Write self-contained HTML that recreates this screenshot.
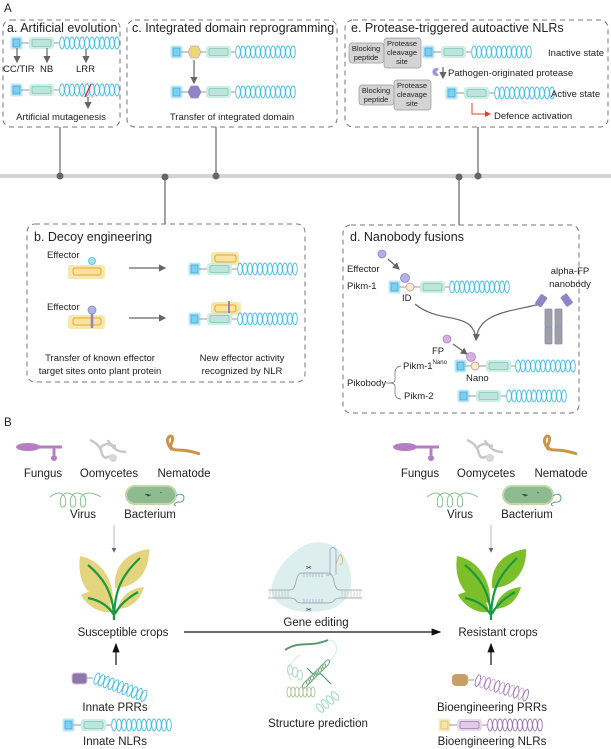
<!DOCTYPE html>
<html><head><meta charset="utf-8"><style>
html,body{margin:0;padding:0;background:#fff}
svg{display:block}
text{font-family:"Liberation Sans",Arial,sans-serif;fill:#222}
.t{font-size:12.5px}
.s{font-size:9.5px}
.m{font-size:11.5px}
.box{fill:none;stroke:#777;stroke-width:1;stroke-dasharray:5,4}
.ln{stroke:#666;stroke-width:1.2;fill:none}
</style></head><body>
<svg width="611" height="749" viewBox="0 0 611 749" xmlns="http://www.w3.org/2000/svg">
<defs>
<marker id="ah" markerWidth="6" markerHeight="6" refX="5" refY="3" orient="auto"><path d="M0,0L6,3L0,6z" fill="#666"/></marker>
<marker id="ahk" markerWidth="8" markerHeight="8" refX="7" refY="4" orient="auto"><path d="M0,1L8,4L0,7z" fill="#111"/></marker>
<marker id="ahr" markerWidth="6" markerHeight="6" refX="5" refY="3" orient="auto"><path d="M0,0L6,3L0,6z" fill="#e53b2c"/></marker>
<g id="coil" fill="none" stroke="#45bde0" stroke-width="0.9">
<ellipse cx="0" cy="0" rx="2.3" ry="6"/><ellipse cx="5" cy="0" rx="2.3" ry="6"/><ellipse cx="10" cy="0" rx="2.3" ry="6"/><ellipse cx="15" cy="0" rx="2.3" ry="6"/><ellipse cx="20" cy="0" rx="2.3" ry="6"/><ellipse cx="25" cy="0" rx="2.3" ry="6"/><ellipse cx="30" cy="0" rx="2.3" ry="6"/><ellipse cx="35" cy="0" rx="2.3" ry="6"/><ellipse cx="40" cy="0" rx="2.3" ry="6"/><ellipse cx="45" cy="0" rx="2.3" ry="6"/><ellipse cx="50" cy="0" rx="2.3" ry="6"/><ellipse cx="55" cy="0" rx="2.3" ry="6"/>
</g>
<g id="sq"><rect x="-1.5" y="-6.5" width="12" height="13" rx="2" fill="#bfe6f5"/><rect x="1" y="-4" width="7" height="8" fill="#7cd0ee" stroke="#3aa9d8" stroke-width="0.8"/></g>
<g id="nb"><rect x="-2" y="-6" width="25" height="12" rx="3" fill="#cdeee4"/><rect x="1" y="-3.5" width="19" height="7" rx="1.5" fill="#bfe5da" stroke="#7fc7b3" stroke-width="0.8"/></g>
<g id="nlr"><use href="#sq"/><line x1="9" y1="0" x2="17" y2="0" stroke="#999"/><use href="#nb" x="19"/><line x1="42" y1="0" x2="47" y2="0" stroke="#999"/><use href="#coil" x="50"/></g>
</defs>

<text x="4" y="12" class="m">A</text>

<!-- a -->
<rect class="box" x="3" y="20" width="117" height="107" rx="8"/>
<text x="7" y="32" class="t">a. Artificial evolution</text>
<use href="#nlr" x="12" y="43"/>
<g class="ln" stroke-width="0.8"><line x1="17" y1="48" x2="17" y2="62" marker-end="url(#ah)"/><line x1="47" y1="48" x2="47" y2="62" marker-end="url(#ah)"/><line x1="86" y1="49" x2="86" y2="62" marker-end="url(#ah)"/></g>
<text x="3" y="72" class="s">CC/TIR</text><text x="40" y="72" class="s">NB</text><text x="76" y="72" class="s">LRR</text>
<use href="#nlr" x="12" y="90"/>
<rect x="82" y="83" width="12" height="14" fill="none" stroke="#888" stroke-width="0.6" stroke-dasharray="1.5,1"/>
<line x1="85" y1="97" x2="91" y2="84" stroke="#e02020" stroke-width="1.3"/>
<line x1="88" y1="97" x2="88" y2="108" class="ln" stroke-width="0.8" marker-end="url(#ah)"/>
<text x="61" y="120" class="s" text-anchor="middle" font-size="10">Artificial mutagenesis</text>

<!-- c -->
<rect class="box" x="127" y="20" width="210" height="107" rx="8"/>
<text x="132" y="32" class="t">c. Integrated domain reprogramming</text>
<g transform="translate(172,52)"><use href="#sq"/><line x1="9" y1="0" x2="16" y2="0" stroke="#999"/><polygon points="16,0 19,-6 26,-6 29,0 26,6 19,6" fill="#ecd67a" stroke="#c9a0d0" stroke-width="0.8"/><line x1="29" y1="0" x2="34" y2="0" stroke="#999"/><use href="#nb" x="36"/><line x1="59" y1="0" x2="63" y2="0" stroke="#999"/><use href="#coil" x="66"/></g>
<line x1="194" y1="60" x2="194" y2="83" class="ln" stroke-width="0.8" marker-end="url(#ah)"/>
<g transform="translate(172,92)"><use href="#sq"/><line x1="9" y1="0" x2="16" y2="0" stroke="#999"/><polygon points="16,0 19,-6 26,-6 29,0 26,6 19,6" fill="#8a86c8" stroke="#b080c0" stroke-width="0.8"/><line x1="29" y1="0" x2="34" y2="0" stroke="#999"/><use href="#nb" x="36"/><line x1="59" y1="0" x2="63" y2="0" stroke="#999"/><use href="#coil" x="66"/></g>
<text x="232" y="120" class="s" text-anchor="middle" font-size="10">Transfer of integrated domain</text>

<!-- e -->
<rect class="box" x="345" y="20" width="263" height="107" rx="8"/>
<text x="351" y="32" class="t">e. Protease-triggered autoactive NLRs</text>
<g font-size="7.5">
<rect x="349" y="43" width="35" height="20" rx="3" fill="#d4d4d4" stroke="#999" stroke-width="0.7"/>
<text x="366" y="51" font-size="7.5" text-anchor="middle">Blocking</text><text x="366" y="60" font-size="7.5" text-anchor="middle">peptide</text>
<rect x="384" y="38" width="37" height="30" rx="3" fill="#d4d4d4" stroke="#999" stroke-width="0.7"/>
<text x="402" y="46" font-size="7.5" text-anchor="middle">Protease</text><text x="402" y="55" font-size="7.5" text-anchor="middle">cleavage</text><text x="402" y="64" font-size="7.5" text-anchor="middle">site</text>
<rect x="359" y="85" width="35" height="20" rx="3" fill="#d4d4d4" stroke="#999" stroke-width="0.7"/>
<text x="376" y="93" font-size="7.5" text-anchor="middle">Blocking</text><text x="376" y="102" font-size="7.5" text-anchor="middle">peptide</text>
<rect x="394" y="80" width="37" height="30" rx="3" fill="#d4d4d4" stroke="#999" stroke-width="0.7"/>
<text x="412" y="88" font-size="7.5" text-anchor="middle">Protease</text><text x="412" y="97" font-size="7.5" text-anchor="middle">cleavage</text><text x="412" y="106" font-size="7.5" text-anchor="middle">site</text>
</g>
<use href="#nlr" x="424" y="52"/>
<text x="604" y="56" class="s" text-anchor="end">Inactive state</text>
<path d="M439,69 a4,4 0 1,0 0,6 l-3,-3z" fill="#9a97d6"/>
<line x1="443" y1="67" x2="443" y2="78" class="ln" stroke-width="0.8" marker-end="url(#ah)"/>
<text x="448" y="76" class="s">Pathogen-originated protease</text>
<use href="#nlr" x="447" y="93"/>
<text x="551" y="97" class="s">Active state</text>
<path d="M472,103 V114 H490" fill="none" stroke="#e53b2c" stroke-width="1" marker-end="url(#ahr)"/>
<text x="494" y="119" class="s">Defence activation</text>

<!-- timeline -->
<rect x="0" y="174" width="611" height="4" fill="#d4d4d4"/>
<g stroke="#666" stroke-width="1.2">
<line x1="60" y1="127" x2="60" y2="176"/><line x1="216" y1="127" x2="216" y2="176"/><line x1="478" y1="127" x2="478" y2="176"/>
<line x1="165" y1="177" x2="165" y2="224"/><line x1="459" y1="177" x2="459" y2="225"/>
</g>
<g fill="#666"><circle cx="60" cy="176" r="3.5"/><circle cx="165" cy="177" r="3.5"/><circle cx="216" cy="176" r="3.5"/><circle cx="459" cy="177" r="3.5"/><circle cx="478" cy="176" r="3.5"/></g>

<!-- b -->
<rect class="box" x="27" y="224" width="278" height="158" rx="8"/>
<text x="34" y="241" class="t">b. Decoy engineering</text>
<text x="47" y="258" class="s">Effector</text>
<circle cx="92" cy="261" r="3.5" fill="#a6e0ee" stroke="#4bbbd8" stroke-width="0.8"/>
<rect x="68" y="265" width="37" height="14" rx="3" fill="#f4e8b0"/><rect x="73" y="268" width="28" height="7" rx="2" fill="#f7e4a0" stroke="#f0a030"/>
<line x1="129" y1="268" x2="165" y2="268" class="ln" stroke-width="0.8" marker-end="url(#ah)"/>
<rect x="211" y="252" width="28" height="13" rx="3" fill="#f4e8b0"/><rect x="215" y="255" width="21" height="7" rx="2" fill="#f7e4a0" stroke="#f0a030"/>
<use href="#nlr" x="190" y="269"/>
<text x="47" y="310" class="s">Effector</text>
<rect x="68" y="315" width="37" height="14" rx="3" fill="#f4e8b0"/><rect x="73" y="318" width="28" height="7" rx="2" fill="#f7e4a0" stroke="#f0a030"/>
<line x1="92" y1="313" x2="92" y2="328" stroke="#8a86c8" stroke-width="2.5"/>
<circle cx="92" cy="310" r="4" fill="#b4b0e4" stroke="#8a86c8" stroke-width="0.8"/>
<line x1="129" y1="318" x2="165" y2="318" class="ln" stroke-width="0.8" marker-end="url(#ah)"/>
<rect x="211" y="302" width="30" height="13" rx="3" fill="#f4e8b0"/><rect x="215" y="305" width="21" height="7" rx="2" fill="#f7e4a0" stroke="#f0a030"/>
<line x1="229" y1="301" x2="229" y2="316" stroke="#8a86c8" stroke-width="2"/>
<use href="#nlr" x="190" y="319"/>
<text x="100" y="361" class="s" text-anchor="middle">Transfer of known effector</text>
<text x="100" y="374" class="s" text-anchor="middle">target sites onto plant protein</text>
<text x="242" y="361" class="s" text-anchor="middle">New effector activity</text>
<text x="242" y="374" class="s" text-anchor="middle">recognized by NLR</text>

<!-- d -->
<rect class="box" x="343" y="225" width="236" height="188" rx="8"/>
<text x="350" y="241" class="t">d. Nanobody fusions</text>
<circle cx="382" cy="254" r="4" fill="#b4b0e4" stroke="#8a86c8" stroke-width="0.8"/>
<line x1="388" y1="259" x2="399" y2="269" class="ln" stroke-width="0.8" marker-end="url(#ah)"/>
<text x="347" y="272" class="s">Effector</text>
<text x="347" y="289" class="s">Pikm-1</text>
<g transform="translate(390,287)"><use href="#sq"/><line x1="9" y1="0" x2="30" y2="0" stroke="#999"/><use href="#nb" x="32"/><line x1="55" y1="0" x2="59" y2="0" stroke="#999"/><use href="#coil" x="62"/></g>
<circle cx="405" cy="278" r="4.5" fill="#b4b0e4" stroke="#8a86c8" stroke-width="0.8"/>
<circle cx="410" cy="287" r="4" fill="#f6efc0" stroke="#c898d0" stroke-width="0.9"/>
<text x="402" y="301" class="s">ID</text>
<path d="M415,304 C440,325 474,310 476,340" class="ln" stroke-width="1"/>
<path d="M540,304 C510,312 478,312 476,340" class="ln" stroke-width="1" marker-end="url(#ah)"/>
<text x="570" y="274" class="s" text-anchor="middle">alpha-FP</text>
<text x="570" y="287" class="s" text-anchor="middle">nanobody</text>
<g fill="#a0a0a0" stroke="#8a86c8" stroke-width="0.8">
<rect x="545" y="309" width="7" height="18" rx="1"/><rect x="545" y="327" width="7" height="17" rx="1"/>
<rect x="555" y="309" width="7" height="18" rx="1"/><rect x="555" y="327" width="7" height="17" rx="1"/>
<rect x="538" y="295" width="7" height="11" rx="1" fill="#8a86c8" transform="rotate(35 541 300)"/>
<rect x="563" y="295" width="7" height="11" rx="1" fill="#8a86c8" transform="rotate(-35 566 300)"/>
</g>
<circle cx="447" cy="339" r="4" fill="#d6b0e0" stroke="#b080c8" stroke-width="0.8"/>
<line x1="453" y1="344" x2="467" y2="354" class="ln" stroke-width="0.8" marker-end="url(#ah)"/>
<text x="432" y="354" class="s">FP</text>
<g transform="translate(456,366)"><use href="#sq"/><line x1="9" y1="0" x2="30" y2="0" stroke="#999"/><use href="#nb" x="32"/><line x1="55" y1="0" x2="59" y2="0" stroke="#999"/><use href="#coil" x="62"/></g>
<circle cx="471" cy="357" r="4.5" fill="#d6b0e0" stroke="#b080c8" stroke-width="0.8"/>
<circle cx="475" cy="366" r="4" fill="#f6efc0" stroke="#c898d0" stroke-width="0.9"/>
<text x="403" y="369" class="s">Pikm-1<tspan font-size="6" dy="-5">Nano</tspan></text>
<text x="466" y="381" class="s">Nano</text>
<text x="347" y="386" class="s">Pikobody</text>
<path d="M386,383 h3 M401,366 q-5,0 -6,6 v8 q0,3 -6,3 q6,0 6,3 v8 q1,5 6,5" fill="none" stroke="#666" stroke-width="0.7"/>
<text x="404" y="399" class="s">Pikm-2</text>
<use href="#nlr" x="459" y="396"/>

<!-- B -->
<text x="4" y="426" class="m">B</text>
<g id="orgs">
<ellipse cx="28" cy="447" rx="12" ry="4" fill="#b47ec0"/><path d="M36,447 H62 M54,447 v5" stroke="#b47ec0" stroke-width="3"/><path d="M54,450 v5" stroke="#b47ec0" stroke-width="3"/><circle cx="54" cy="458" r="3" fill="#b47ec0"/>
<path d="M90,440 q10,4 12,14 q2,6 8,2 M100,448 q8,-8 14,0 q4,4 12,4 M108,440 q2,6 8,6" fill="none" stroke="#c8c8c8" stroke-width="2.5"/>
<ellipse cx="113" cy="458" rx="4" ry="4" fill="#d8d8d8"/>
<path d="M172,450 q-8,-10 -2,-14 q4,0 2,6 q-4,8 6,8 q10,0 22,4" fill="none" stroke="#c8964a" stroke-width="3"/>
<text x="43" y="477" class="m" text-anchor="middle">Fungus</text>
<text x="109" y="477" class="m" text-anchor="middle">Oomycetes</text>
<text x="184" y="477" class="m" text-anchor="middle">Nematode</text>
<path d="M50,497 q10,-8 15,0 q2,10 -2,10 q-4,0 -2,-10 q6,-8 14,0 q2,10 -2,10 q-4,0 -2,-10 q6,-8 14,0 q2,10 -2,10 q-4,0 -2,-10 q6,-8 20,0" fill="none" stroke="#8cc090" stroke-width="1"/>
<rect x="126" y="486" width="50" height="18" rx="9" fill="#8dba8f" stroke="#c4d4a8" stroke-width="2"/>
<path d="M176,496 q6,-4 8,1 q0,6 -6,5 q-6,2 -2,4" fill="none" stroke="#4a9a7a" stroke-width="0.9"/>
<path d="M145,494 l3,2 l3,-1 M160,492 l2,1" stroke="#2a7a5a" stroke-width="0.8"/>
<text x="83" y="518" class="m" text-anchor="middle">Virus</text>
<text x="150" y="518" class="m" text-anchor="middle">Bacterium</text>
</g>
<use href="#orgs" x="377"/>
<line x1="114" y1="525" x2="114" y2="552" stroke="#aaa" stroke-width="0.8" marker-end="url(#ah)"/>
<line x1="491" y1="525" x2="491" y2="552" stroke="#aaa" stroke-width="0.8" marker-end="url(#ah)"/>

<g>
<path d="M113,603 C92,602 76,585 80,556 C100,560 114,578 113,603z" fill="#e4d47e"/>
<path d="M115,588 C113,565 128,552 149,549 C150,572 136,588 115,588z" fill="#e4d47e"/>
<path d="M112,612 C98,614 86,604 81,595 C96,586 110,596 112,612z" fill="#e4d47e"/>
<path d="M118,609 C120,596 131,588 144,587 C140,601 131,608 118,609z" fill="#e4d47e"/>
<path d="M114,620 C114,590 100,575 88,565 M114,620 C114,590 122,575 140,558 M114,615 C108,605 98,600 88,598 M115,614 C120,604 128,598 138,592" fill="none" stroke="#1a9a40" stroke-width="2.2"/>
</g>
<g transform="translate(377,0)">
<path d="M113,603 C92,602 76,585 80,556 C100,560 114,578 113,603z" fill="#7cbf2a"/>
<path d="M115,588 C113,565 128,552 149,549 C150,572 136,588 115,588z" fill="#7cbf2a"/>
<path d="M112,612 C98,614 86,604 81,595 C96,586 110,596 112,612z" fill="#7cbf2a"/>
<path d="M118,609 C120,596 131,588 144,587 C140,601 131,608 118,609z" fill="#7cbf2a"/>
<path d="M114,620 C114,590 100,575 88,565 M114,620 C114,590 122,575 140,558 M114,615 C108,605 98,600 88,598 M115,614 C120,604 128,598 138,592" fill="none" stroke="#1a9a40" stroke-width="2.2"/>
</g>

<text x="123" y="636" class="m" text-anchor="middle" font-size="12">Susceptible crops</text>
<text x="498" y="636" class="m" text-anchor="middle" font-size="12">Resistant crops</text>
<line x1="184" y1="632" x2="440" y2="632" stroke="#111" stroke-width="1.2" marker-end="url(#ahk)"/>

<!-- gene editing -->
<path d="M300,548 C320,535 345,545 350,570 C356,598 340,612 310,612 C285,612 268,600 272,585 C276,570 285,558 300,548z" fill="#dcefee"/>
<g stroke="#999" stroke-width="0.7" fill="none">
<path d="M268,590 H290 C298,590 294,573 302,573 H328 C336,573 332,590 340,590 H362"/>
<path d="M268,598 H290 C298,598 294,603 302,603 H328 C336,603 332,598 340,598 H362"/>
</g>
<path d="M270,590 v8 M273,590 v8 M276,590 v8 M279,590 v8 M282,590 v8 M285,590 v8 M288,590 v8 M342,590 v8 M345,590 v8 M348,590 v8 M351,590 v8 M354,590 v8 M357,590 v8 M360,590 v8" stroke="#bbb" stroke-width="0.6"/>
<path d="M304,573 v4 M307,573 v4 M310,573 v4 M313,573 v4 M316,573 v4 M319,573 v4 M322,573 v4 M304,603 v-4 M307,603 v-4 M310,603 v-4 M313,603 v-4 M316,603 v-4 M319,603 v-4 M322,603 v-4" stroke="#9a96d0" stroke-width="0.6"/>
<path d="M326,575 H330 V550 q3,-5 6,0 V575" fill="none" stroke="#9aa0c8" stroke-width="0.8"/>
<path d="M336,565 q4,-15 6,-8 q2,6 -2,8" fill="none" stroke="#d8b870" stroke-width="0.9"/>
<text x="306" y="570" font-size="7" fill="#333">✂</text>
<text x="306" y="612" font-size="7" fill="#333">✂</text>
<text x="316" y="626" class="m" text-anchor="middle" font-size="12">Gene editing</text>

<!-- structure prediction -->
<g fill="none" stroke-width="1.1">
<path d="M285,650 C300,640 310,648 328,640" stroke="#5a9a6a" stroke-width="2"/>
<path d="M328,640 C340,640 338,655 330,660 M300,655 C290,660 285,675 292,680" stroke="#cfe6dc" stroke-width="0.8"/>
<path d="M307,668 l6,6 l8,0 l10,10" stroke="#4a9a8a" stroke-width="1.2"/>
<g stroke="#7ab080"><ellipse cx="310" cy="680" rx="2.2" ry="5" transform="rotate(40 310 680)"/><ellipse cx="314" cy="676" rx="2.2" ry="5" transform="rotate(40 314 676)"/><ellipse cx="318" cy="672" rx="2.2" ry="5" transform="rotate(40 318 672)"/><ellipse cx="322" cy="668" rx="2.2" ry="5" transform="rotate(40 322 668)"/><ellipse cx="326" cy="664" rx="2.2" ry="5" transform="rotate(40 326 664)"/><ellipse cx="306" cy="684" rx="2.2" ry="5" transform="rotate(40 306 684)"/></g>
<g stroke="#b8d8c8"><ellipse cx="290" cy="670" rx="2.5" ry="5"/><ellipse cx="295" cy="672" rx="2.5" ry="5"/><ellipse cx="300" cy="675" rx="2.5" ry="5"/></g>
<g stroke="#bcc8a8"><ellipse cx="289" cy="692" rx="2" ry="5"/><ellipse cx="293" cy="692" rx="2" ry="5"/><ellipse cx="297" cy="692" rx="2" ry="5"/><ellipse cx="301" cy="692" rx="2" ry="5"/><ellipse cx="305" cy="692" rx="2" ry="5"/><ellipse cx="309" cy="692" rx="2" ry="5"/><ellipse cx="313" cy="692" rx="2" ry="5"/></g>
<g stroke="#a8d8cc"><ellipse cx="320" cy="708" rx="2.5" ry="5" transform="rotate(-40 320 708)"/><ellipse cx="325" cy="704" rx="2.5" ry="5" transform="rotate(-40 325 704)"/><ellipse cx="330" cy="700" rx="2.5" ry="5" transform="rotate(-40 330 700)"/><ellipse cx="335" cy="696" rx="2.5" ry="5" transform="rotate(-40 335 696)"/></g>
</g>
<text x="318" y="727" class="m" text-anchor="middle" font-size="12">Structure prediction</text>

<!-- receptors -->
<line x1="116" y1="665" x2="116" y2="644" stroke="#111" stroke-width="1.2" marker-end="url(#ahk)"/>
<line x1="491" y1="665" x2="491" y2="644" stroke="#111" stroke-width="1.2" marker-end="url(#ahk)"/>
<rect x="72" y="673" width="15" height="11" rx="3" fill="#8b78a8" stroke="#d8b8dc"/>
<line x1="87" y1="678" x2="93" y2="678" stroke="#999"/>
<g fill="none" stroke="#45bde0" stroke-width="0.9" transform="rotate(20 95 678)"><ellipse cx="97" cy="678" rx="2.3" ry="6"/><ellipse cx="102" cy="678" rx="2.3" ry="6"/><ellipse cx="107" cy="678" rx="2.3" ry="6"/><ellipse cx="112" cy="678" rx="2.3" ry="6"/><ellipse cx="117" cy="678" rx="2.3" ry="6"/><ellipse cx="122" cy="678" rx="2.3" ry="6"/><ellipse cx="127" cy="678" rx="2.3" ry="6"/><ellipse cx="132" cy="678" rx="2.3" ry="6"/><ellipse cx="137" cy="678" rx="2.3" ry="6"/><ellipse cx="142" cy="678" rx="2.3" ry="6"/><ellipse cx="147" cy="678" rx="2.3" ry="6"/></g>
<text x="115" y="711" class="m" text-anchor="middle" font-size="12">Innate PRRs</text>
<use href="#nlr" x="64" y="725"/>
<text x="115" y="745" class="m" text-anchor="middle" font-size="12">Innate NLRs</text>

<rect x="452" y="674" width="16" height="12" rx="4" fill="#c8a068"/>
<line x1="468" y1="680" x2="474" y2="680" stroke="#999"/>
<g fill="none" stroke="#9a78b8" stroke-width="0.9" transform="rotate(17 476 680)"><ellipse cx="478" cy="680" rx="2.3" ry="6"/><ellipse cx="483" cy="680" rx="2.3" ry="6" stroke="#d8a8d0"/><ellipse cx="488" cy="680" rx="2.3" ry="6"/><ellipse cx="493" cy="680" rx="2.3" ry="6" stroke="#d8a8d0"/><ellipse cx="498" cy="680" rx="2.3" ry="6"/><ellipse cx="503" cy="680" rx="2.3" ry="6" stroke="#d8a8d0"/><ellipse cx="508" cy="680" rx="2.3" ry="6"/><ellipse cx="513" cy="680" rx="2.3" ry="6" stroke="#d8a8d0"/><ellipse cx="518" cy="680" rx="2.3" ry="6"/><ellipse cx="523" cy="680" rx="2.3" ry="6" stroke="#d8a8d0"/><ellipse cx="528" cy="680" rx="2.3" ry="6"/></g>
<text x="492" y="711" class="m" text-anchor="middle" font-size="12">Bioengineering PRRs</text>
<g transform="translate(440,725)">
<rect x="-1.5" y="-6.5" width="12" height="13" rx="2" fill="#f6edc0"/><rect x="1" y="-4" width="7" height="8" fill="#f2e6a8" stroke="#d8c070" stroke-width="0.8"/>
<line x1="9" y1="0" x2="17" y2="0" stroke="#999"/>
<rect x="17" y="-6" width="25" height="12" rx="3" fill="#ecd8ec"/><rect x="20" y="-3.5" width="19" height="7" rx="1.5" fill="#e0cce4" stroke="#9a78b8" stroke-width="0.8"/>
<line x1="42" y1="0" x2="47" y2="0" stroke="#999"/>
<g fill="none" stroke="#9a78b8" stroke-width="0.9"><ellipse cx="50" cy="0" rx="2.3" ry="6"/><ellipse cx="55" cy="0" rx="2.3" ry="6"/><ellipse cx="60" cy="0" rx="2.3" ry="6"/><ellipse cx="65" cy="0" rx="2.3" ry="6"/><ellipse cx="70" cy="0" rx="2.3" ry="6"/><ellipse cx="75" cy="0" rx="2.3" ry="6"/><ellipse cx="80" cy="0" rx="2.3" ry="6"/><ellipse cx="85" cy="0" rx="2.3" ry="6"/><ellipse cx="90" cy="0" rx="2.3" ry="6"/><ellipse cx="95" cy="0" rx="2.3" ry="6"/><ellipse cx="100" cy="0" rx="2.3" ry="6"/></g>
</g>
<text x="492" y="745" class="m" text-anchor="middle" font-size="12">Bioengineering NLRs</text>
</svg>
</body></html>
